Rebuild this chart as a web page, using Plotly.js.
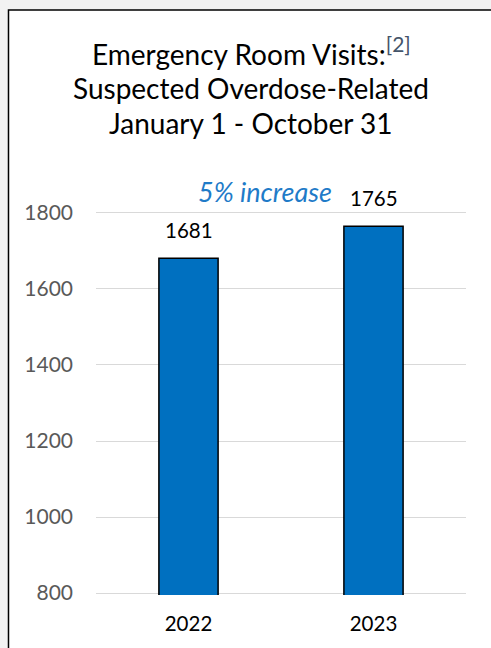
<!DOCTYPE html>
<html><head><meta charset="utf-8">
<script src="https://cdn.plot.ly/plotly-3.0.1.min.js"></script>
<style>html,body{margin:0;padding:0;background:#f2f2f2;}#chart{width:491px;height:648px;}</style>
</head><body><div id="chart"></div>
<script>
const categories = ["2022", "2023"];
const visits = [1681, 1765];
const titleLines = ["Emergency Room Visits:", "Suspected Overdose-Related", "January 1 - October 31"];
const footnote = "[2]";
const changeNote = "5% increase";
const yTicks = [800, 1000, 1200, 1400, 1600, 1800];

const FONT = "Lato, 'Liberation Sans', sans-serif";
const M = {l: 96, r: 25, t: 211, b: 53};
const PH = 648 - M.t - M.b;
const py = p => (648 - M.b - p) / PH;   // pixel row -> paper y

const trace = {
  type: "bar",
  x: categories,
  y: visits,
  marker: {color: "#0070C0", line: {color: "#000000", width: 1.5}},
  hoverinfo: "none"
};

const valueLabels = categories.map((c, i) => ({
  text: String(visits[i]), x: i, y: visits[i], xref: "x", yref: "y",
  xanchor: "center", yanchor: "bottom", yshift: 14, showarrow: false,
  font: {family: FONT, size: 20.5, color: "#000000"}
}));

const layout = {
  width: 491, height: 648,
  margin: M,
  paper_bgcolor: "#f2f2f2",
  plot_bgcolor: "rgba(0,0,0,0)",
  showlegend: false,
  bargap: 0.68,
  font: {family: FONT},
  xaxis: {
    type: "category", categoryorder: "array", categoryarray: categories,
    showgrid: false, showline: false, zeroline: false,
    tickfont: {family: FONT, size: 20.5, color: "#000000"},
    ticks: "", ticklabelstandoff: 14
  },
  yaxis: {
    range: [795, 1805],
    tickvals: yTicks,
    showgrid: true, gridcolor: "#d9d9d9", gridwidth: 1,
    showline: false, zeroline: false,
    tickfont: {family: FONT, size: 21, color: "#595959"},
    ticks: "", ticklabelstandoff: 22
  },
  shapes: [{
    type: "rect", xref: "paper", yref: "paper", layer: "below",
    x0: -0.2365, x1: 1.3, y0: -0.3, y1: py(10),
    fillcolor: "#ffffff", line: {color: "#000000", width: 1.5}
  }],
  annotations: valueLabels.concat([
    {text: titleLines[0] + "<span style='color:#44546A;font-size:30px'><sup>" + footnote + "</sup></span>", xref: "paper", yref: "paper",
     x: 0.419, y: py(51), xanchor: "center", yanchor: "middle", showarrow: false,
     font: {family: FONT, size: 28, color: "#000000"}},
    {text: titleLines[1], xref: "paper", yref: "paper",
     x: 0.419, y: py(88), xanchor: "center", yanchor: "middle", showarrow: false,
     font: {family: FONT, size: 28, color: "#000000"}},
    {text: titleLines[2], xref: "paper", yref: "paper",
     x: 0.419, y: py(123), xanchor: "center", yanchor: "middle", showarrow: false,
     font: {family: FONT, size: 28, color: "#000000"}},
    {text: "<i>" + changeNote + "</i>", xref: "paper", yref: "paper",
     x: 0.457, y: py(191), xanchor: "center", yanchor: "middle", showarrow: false,
     font: {family: FONT, size: 27, color: "#1F7BC8"}}
  ])
};

Plotly.newPlot("chart", [trace], layout, {displayModeBar: false, staticPlot: true});
</script></body></html>
